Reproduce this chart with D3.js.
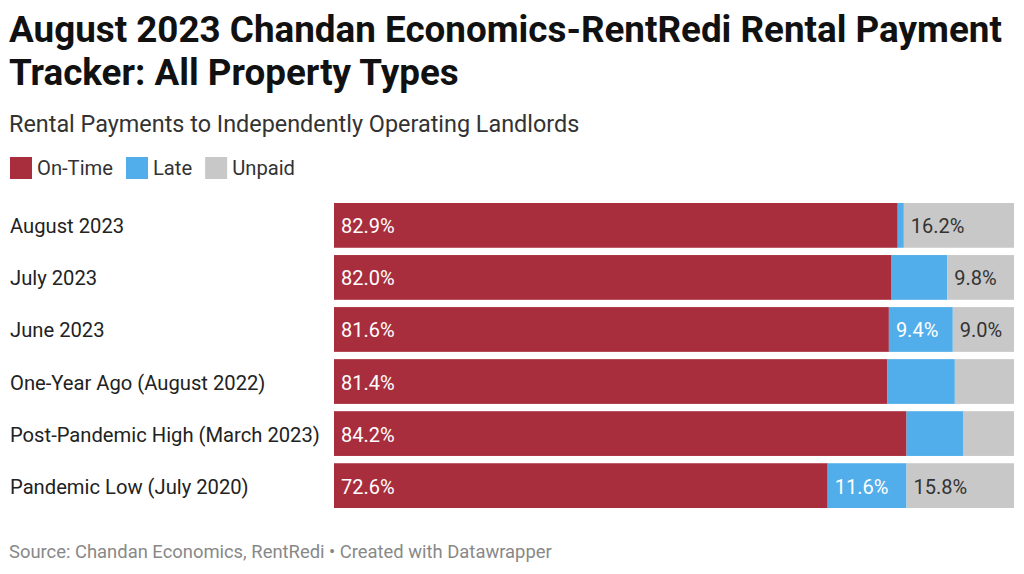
<!DOCTYPE html>
<html lang="en">
<head>
<meta charset="utf-8">
<title>Rental Payment Tracker</title>
<script src="https://d3js.org/d3.v7.min.js"></script>
<style>
  body { margin: 0; background: #fff; font-family: Roboto, sans-serif; }
</style>
</head>
<body>
<svg id="chart" width="1024" height="574"></svg>
<script>
  const categories = ["August 2023", "July 2023", "June 2023", "One-Year Ago (August 2022)", "Post-Pandemic High (March 2023)", "Pandemic Low (July 2020)"]
  const onTime = [82.9, 82.0, 81.6, 81.4, 84.2, 72.6]
  const late = [0.9, 8.2, 9.4, 9.9, 8.3, 11.6]
  const unpaid = [16.2, 9.8, 9.0, 8.7, 7.5, 15.8]
  // which segments carry a value label in the original (On-Time, Late, Unpaid)
  const showLabel = [[1, 0, 1], [1, 0, 1], [1, 1, 1], [1, 0, 0], [1, 0, 0], [1, 1, 1]]
  const keys = ["On-Time", "Late", "Unpaid"]
  const colors = ["#a82e3e", "#52aeea", "#c8c8c8"]
  const textColors = ["#fff", "#fff", "#333"]

  const data = categories.map((c, i) => ({ name: c, idx: i, "On-Time": onTime[i], "Late": late[i], "Unpaid": unpaid[i] }))
  const svg = d3.select("#chart")

  // title and subtitle
  svg.append("text").attr("x", 9).attr("y", 42).attr("font-size", 36.8).attr("font-weight", 700).attr("fill", "#111")
    .text("August 2023 Chandan Economics-RentRedi Rental Payment")
  svg.append("text").attr("x", 9).attr("y", 85).attr("font-size", 36.8).attr("font-weight", 700).attr("fill", "#111")
    .text("Tracker: All Property Types")
  svg.append("text").attr("x", 9).attr("y", 132).attr("font-size", 23.4).attr("fill", "#333")
    .text("Rental Payments to Independently Operating Landlords")

  // legend
  let lx = 10
  keys.forEach((k, i) => {
    svg.append("rect").attr("x", lx).attr("y", 157).attr("width", 22).attr("height", 22).attr("fill", colors[i])
    const t = svg.append("text").attr("x", lx + 27).attr("y", 175).attr("font-size", 20.2).attr("fill", "#333").text(k)
    lx += 27 + t.node().getComputedTextLength() + 13
  })

  const x = d3.scaleLinear().domain([0, 100]).range([334, 1014])
  const y = d3.scaleBand().domain(categories).range([203, 508]).paddingInner(0.14)

  const stack = d3.stack().keys(keys)(data)

  stack.forEach((layer, k) => {
    const g = svg.append("g")
    g.selectAll("rect").data(layer).enter().append("rect")
      .attr("x", d => x(d[0]))
      .attr("y", d => y(d.data.name))
      .attr("width", d => x(d[1]) - x(d[0]))
      .attr("height", y.bandwidth())
      .attr("fill", colors[k])
    g.selectAll("text").data(layer.filter(d => showLabel[d.data.idx][k])).enter().append("text")
      .attr("x", d => x(d[0]) + 7)
      .attr("y", d => y(d.data.name) + y.bandwidth() / 2 + 8)
      .attr("font-size", 20)
      .attr("fill", textColors[k])
      .text(d => (d[1] - d[0]).toFixed(1) + "%")
  })

  svg.append("g").selectAll("text").data(categories).enter().append("text")
    .attr("x", 10)
    .attr("y", d => y(d) + y.bandwidth() / 2 + 8)
    .attr("font-size", 20.2)
    .attr("fill", "#222")
    .text(d => d)

  svg.append("text").attr("x", 9).attr("y", 558).attr("font-size", 18.4).attr("fill", "#888")
    .text("Source: Chandan Economics, RentRedi • Created with Datawrapper")
</script>
</body>
</html>
